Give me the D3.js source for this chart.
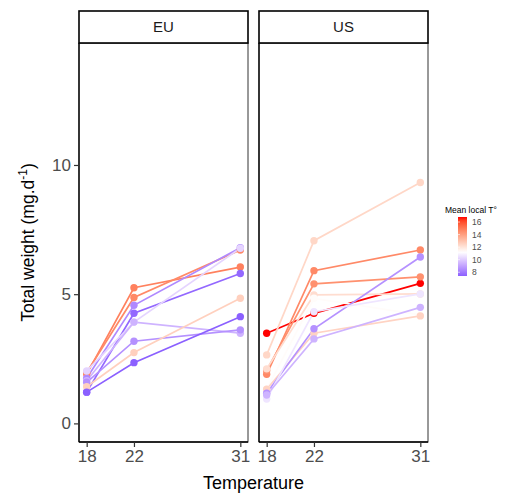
<!DOCTYPE html>
<html>
<head>
<meta charset="utf-8">
<script src="https://cdn.jsdelivr.net/npm/d3@7"></script>
<style>
  body { margin: 0; background: #fff; }
  text { font-family: "Liberation Sans", Arial, sans-serif; }
</style>
</head>
<body>
<div class="canvas"></div>
<script>
// data
const temps = [18, 22, 31];
const regions = ['EU', 'US'];
const yTicks = [0, 5, 10];
const legendTicks = [8, 10, 12, 14, 16];

// mean local temperature of each population
const euLocalT = [14.8, 14.6, 8.4, 7.6, 10.2, 9.4, 8.6, 12.6, 7.4];
// total weight at 18, 22, 31 degrees
const euWeight = [
    [1.91, 5.25, 6.05],
    [1.97, 4.87, 6.71],
    [1.75, 4.57, 6.80],
    [1.21, 4.26, 5.80],
    [2.03, 3.92, 6.78],
    [1.65, 3.92, 3.49],
    [1.59, 3.18, 3.62],
    [1.42, 2.74, 4.84],
    [1.21, 2.35, 4.13]
];

const usLocalT = [16.8, 12.4, 14.6, 14.4, 12.2, 11.3, 12.5, 8.6, 10.6, 9.4];
const usWeight = [
    [3.49, 4.26, 5.42],
    [2.65, 7.07, 9.32],
    [1.90, 5.91, 6.71],
    [2.05, 5.40, 5.67],
    [2.11, 4.97, 5.01],
    [1.32, 4.84, 4.20],
    [1.32, 3.49, 4.16],
    [1.17, 3.66, 6.44],
    [0.94, 4.32, 5.01],
    [1.10, 3.27, 4.49]
];

const localTRange = [7.4, 16.8];

// svg container
const svg = d3.select('.canvas')
    .append('svg')
    .attr('width', 520)
    .attr('height', 494);

// panel geometry
const panelW = 169;
const panelLeft = { EU: 79, US: 259 };
const stripTop = 11;
const plotTop = 43;
const plotBottom = 442;

// scales
const yScale = d3.scaleLinear()
    .domain([-0.72, 14.72])
    .range([plotBottom, plotTop]);

// diverging colour: blue - white - red, interpolated in Lab
const mid = 11.2, dev = 5.6;
const colour = d3.scaleLinear()
    .domain([mid - dev, mid, mid + dev])
    .range(['blue', 'white', 'red'])
    .interpolate(d3.interpolateLab);

const lineGen = d3.line()
    .x(d => d.x)
    .y(d => d.y);

const panels = [
    { name: 'EU', localT: euLocalT, weight: euWeight },
    { name: 'US', localT: usLocalT, weight: usWeight }
];

panels.forEach((p, pi) => {
    const x0 = panelLeft[p.name];
    const xScale = d3.scaleLinear()
        .domain([17.35, 31.65])
        .range([x0, x0 + panelW]);

    const g = svg.append('g');

    // panel frame
    g.append('rect')
        .attr('x', x0)
        .attr('y', plotTop)
        .attr('width', panelW)
        .attr('height', plotBottom - plotTop)
        .attr('fill', 'white')
        .attr('stroke', '#333')
        .attr('stroke-width', 1);

    // strip
    g.append('rect')
        .attr('x', x0)
        .attr('y', stripTop)
        .attr('width', panelW)
        .attr('height', plotTop - stripTop)
        .attr('fill', 'white')
        .attr('stroke', 'black')
        .attr('stroke-width', 1.6);
    g.append('text')
        .attr('x', x0 + panelW / 2)
        .attr('y', (stripTop + plotTop) / 2)
        .attr('dy', '0.35em')
        .attr('text-anchor', 'middle')
        .attr('font-size', 15)
        .attr('fill', '#1a1a1a')
        .text(p.name);

    // series
    const series = p.weight.map((w, i) => ({
        t: p.localT[i],
        pts: w.map((v, j) => ({ x: xScale(temps[j]), y: yScale(v) }))
    }));

    g.append('g').selectAll('path')
        .data(series)
        .enter()
        .append('path')
        .attr('d', d => lineGen(d.pts))
        .attr('fill', 'none')
        .attr('stroke', d => colour(d.t))
        .attr('stroke-width', 1.7);

    series.forEach(s => {
        g.append('g').selectAll('circle')
            .data(s.pts)
            .enter()
            .append('circle')
            .attr('cx', d => d.x)
            .attr('cy', d => d.y)
            .attr('r', 3.7)
            .attr('fill', colour(s.t));
    });

    // x axis
    const xAxis = d3.axisBottom(xScale)
        .tickValues(temps)
        .tickSize(5)
        .tickPadding(3);
    const xAxisGroup = g.append('g')
        .attr('transform', `translate(0,${plotBottom})`)
        .call(xAxis);
    xAxisGroup.select('.domain')
        .attr('d', `M${x0},0H${x0 + panelW}`)
        .attr('stroke', 'black')
        .attr('stroke-width', 1.3);
    xAxisGroup.selectAll('.tick line').attr('stroke', '#333').attr('stroke-width', 1.2);
    xAxisGroup.selectAll('.tick text')
        .attr('font-size', 17)
        .attr('font-family', '"Liberation Sans", Arial, sans-serif')
        .attr('fill', '#4d4d4d');

    // left axis line on each panel, ticks only on first
    const yAxis = d3.axisLeft(yScale)
        .tickValues(pi === 0 ? yTicks : [])
        .tickSize(5)
        .tickPadding(3);
    const yAxisGroup = g.append('g')
        .attr('transform', `translate(${x0},0)`)
        .call(yAxis);
    yAxisGroup.select('.domain')
        .attr('d', `M0,${plotTop}V${plotBottom}`)
        .attr('stroke', 'black')
        .attr('stroke-width', 1.3);
    yAxisGroup.selectAll('.tick line').attr('stroke', '#333').attr('stroke-width', 1.2);
    yAxisGroup.selectAll('.tick text')
        .attr('font-size', 17)
        .attr('font-family', '"Liberation Sans", Arial, sans-serif')
        .attr('fill', '#4d4d4d');
});

// axis titles
svg.append('text')
    .attr('x', 253.5)
    .attr('y', 489)
    .attr('text-anchor', 'middle')
    .attr('font-size', 18)
    .attr('fill', 'black')
    .text('Temperature');

const yTitle = svg.append('text')
    .attr('transform', `translate(34,${(plotTop + plotBottom) / 2}) rotate(-90)`)
    .attr('text-anchor', 'middle')
    .attr('font-size', 17.5)
    .attr('fill', 'black');
yTitle.append('tspan').text('Total weight (mg.d');
yTitle.append('tspan').attr('font-size', 12).attr('dy', -7).text('-1');
yTitle.append('tspan').attr('dy', 7).text(')');

// legend colour bar
const legendY = d3.scaleLinear()
    .domain(localTRange)
    .range([276, 217]);

const defs = svg.append('defs');
const grad = defs.append('linearGradient')
    .attr('id', 'tgrad')
    .attr('x1', 0).attr('x2', 0)
    .attr('y1', 1).attr('y2', 0);
d3.range(0, 1.0001, 0.05).forEach(f => {
    const v = localTRange[0] + f * (localTRange[1] - localTRange[0]);
    grad.append('stop')
        .attr('offset', f)
        .attr('stop-color', colour(v));
});

const legend = svg.append('g');
legend.append('text')
    .attr('x', 445)
    .attr('y', 213)
    .attr('font-size', 8.5)
    .attr('fill', 'black')
    .text('Mean local T°');
legend.append('rect')
    .attr('x', 458)
    .attr('y', legendY(localTRange[1]))
    .attr('width', 9)
    .attr('height', legendY(localTRange[0]) - legendY(localTRange[1]))
    .attr('fill', 'url(#tgrad)');
legend.selectAll('line.lt')
    .data(legendTicks)
    .enter()
    .append('line')
    .attr('x1', 458).attr('x2', 460)
    .attr('y1', d => legendY(d)).attr('y2', d => legendY(d))
    .attr('stroke', 'white')
    .attr('stroke-width', 0.6);
legend.selectAll('text.lt')
    .data(legendTicks)
    .enter()
    .append('text')
    .attr('class', 'lt')
    .attr('x', 472)
    .attr('y', d => legendY(d))
    .attr('dy', '0.35em')
    .attr('font-size', 8.5)
    .attr('fill', '#4d4d4d')
    .text(d => d);
</script>
</body>
</html>
